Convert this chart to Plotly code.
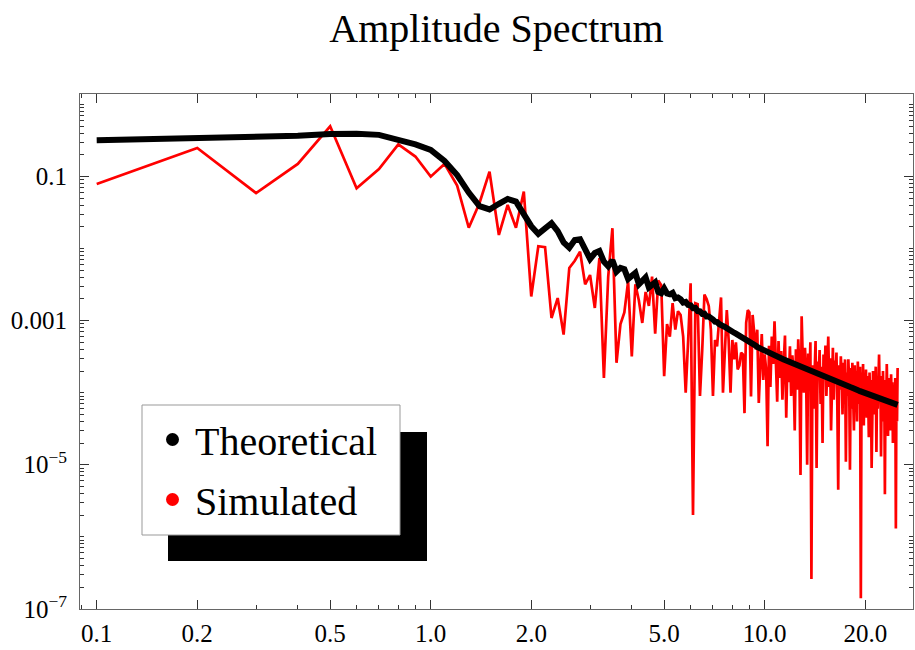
import plotly.graph_objects as go

# frequency grid (0.1 ... 25.0)
freq = [round(k * 0.1, 1) for k in range(1, 251)]

theoretical = [
    0.32, 0.34, 0.355, 0.37, 0.39, 0.395, 0.38, 0.33, 0.28, 0.235,
    0.165, 0.105, 0.06, 0.039, 0.035, 0.042, 0.049, 0.045, 0.031, 0.0205,
    0.016, 0.019, 0.0225, 0.0175, 0.0122, 0.0103, 0.0132, 0.0135, 0.0102, 0.0072,
    0.0087, 0.0093, 0.0066, 0.0057, 0.0069, 0.0048, 0.0054, 0.0052, 0.0038, 0.0042,
    0.0046, 0.0032, 0.0036, 0.0040, 0.0029, 0.0031, 0.0034, 0.0025, 0.0024, 0.0028,
    2.38e-3, 2.32e-3, 2.43e-3, 2.05e-3, 2.10e-3, 1.98e-3, 1.78e-3, 1.82e-3, 1.65e-3, 1.63e-3,
    1.49e-3, 1.50e-3, 1.36e-3, 1.35e-3, 1.24e-3, 1.25e-3, 1.14e-3, 1.14e-3, 1.05e-3, 1.04e-3,
    9.7e-4, 9.6e-4, 9.0e-4, 8.9e-4, 8.4e-4, 8.2e-4, 7.8e-4, 7.6e-4, 7.3e-4, 7.1e-4,
    6.8e-4, 6.6e-4, 6.4e-4, 6.1e-4, 5.9e-4, 5.8e-4, 5.5e-4, 5.4e-4, 5.2e-4, 5.0e-4,
    4.9e-4, 4.7e-4, 4.6e-4, 4.5e-4, 4.3e-4, 4.2e-4, 4.1e-4, 4.0e-4, 3.8e-4, 3.7e-4,
    3.66e-4, 3.60e-4, 3.53e-4, 3.47e-4, 3.40e-4, 3.34e-4, 3.28e-4, 3.22e-4, 3.16e-4, 3.10e-4,
    3.05e-4, 3.00e-4, 2.95e-4, 2.90e-4, 2.85e-4, 2.80e-4, 2.76e-4, 2.71e-4, 2.67e-4, 2.62e-4,
    2.58e-4, 2.54e-4, 2.50e-4, 2.47e-4, 2.43e-4, 2.39e-4, 2.36e-4, 2.32e-4, 2.29e-4, 2.25e-4,
    2.22e-4, 2.19e-4, 2.16e-4, 2.12e-4, 2.09e-4, 2.06e-4, 2.03e-4, 2.01e-4, 1.98e-4, 1.95e-4,
    1.92e-4, 1.90e-4, 1.87e-4, 1.85e-4, 1.82e-4, 1.80e-4, 1.78e-4, 1.75e-4, 1.73e-4, 1.71e-4,
    1.69e-4, 1.66e-4, 1.64e-4, 1.62e-4, 1.60e-4, 1.58e-4, 1.56e-4, 1.55e-4, 1.53e-4, 1.51e-4,
    1.49e-4, 1.47e-4, 1.46e-4, 1.44e-4, 1.42e-4, 1.40e-4, 1.39e-4, 1.37e-4, 1.36e-4, 1.34e-4,
    1.33e-4, 1.31e-4, 1.30e-4, 1.28e-4, 1.27e-4, 1.26e-4, 1.24e-4, 1.23e-4, 1.21e-4, 1.20e-4,
    1.19e-4, 1.18e-4, 1.16e-4, 1.15e-4, 1.14e-4, 1.13e-4, 1.12e-4, 1.10e-4, 1.09e-4, 1.08e-4,
    1.07e-4, 1.06e-4, 1.05e-4, 1.04e-4, 1.03e-4, 1.02e-4, 1.01e-4, 1.00e-4, 9.9e-5, 9.8e-5,
    9.70e-5, 9.65e-5, 9.56e-5, 9.48e-5, 9.40e-5, 9.32e-5, 9.25e-5, 9.17e-5, 9.10e-5, 9.03e-5,
    8.96e-5, 8.89e-5, 8.82e-5, 8.76e-5, 8.69e-5, 8.63e-5, 8.56e-5, 8.50e-5, 8.43e-5, 8.37e-5,
    8.31e-5, 8.25e-5, 8.19e-5, 8.13e-5, 8.07e-5, 8.01e-5, 7.95e-5, 7.89e-5, 7.84e-5, 7.78e-5,
    7.72e-5, 7.67e-5, 7.61e-5, 7.56e-5, 7.50e-5, 7.45e-5, 7.40e-5, 7.35e-5, 7.30e-5, 7.25e-5,
    7.20e-5, 7.15e-5, 7.10e-5, 7.06e-5, 7.01e-5, 6.96e-5, 6.92e-5, 6.87e-5, 6.83e-5, 6.78e-5,
]

simulated = [
    0.079, 0.25, 0.059, 0.15, 0.50, 0.069, 0.127, 0.28, 0.19, 0.10,
    0.15, 0.075, 0.0195, 0.043, 0.117, 0.0155, 0.0405, 0.0195, 0.062, 0.00217,
    0.0108, 0.0105, 0.00109, 0.00206, 0.00064, 0.0054, 0.0068, 0.0091, 0.0032, 0.0043,
    0.0015, 0.0074, 0.00016, 0.0041, 0.0192, 0.00026, 0.0009, 0.0013, 0.0035, 0.00032,
    0.0032, 0.0019, 0.00093, 0.0025, 0.0016, 0.0041, 0.00066, 0.0036, 0.0031, 0.00017,
    9.0e-4, 6.0e-4, 1.75e-3, 7.5e-4, 1.35e-3, 1.2e-3, 6.0e-4, 1.0e-4, 5.4e-4, 3.3e-3,
    2.0e-6, 1.75e-3, 1.7e-3, 9.0e-5, 3.9e-4, 2.3e-3, 2.0e-3, 1.6e-3, 7.5e-4, 9.0e-5,
    5.4e-4, 4.4e-4, 9.8e-4, 2.1e-3, 1.0e-4, 3.2e-4, 1.4e-3, 5.4e-4, 1.0e-4, 5.4e-4,
    2.9e-4, 5.0e-4, 2.1e-4, 2.4e-4, 3.6e-4, 3.4e-4, 5.2e-5, 9.3e-4, 1.4e-3, 1.3e-3,
    8.9e-5, 1.2e-3, 6.0e-4, 4.0e-4, 7.5e-4, 7.2e-5, 2.4e-4, 6.5e-4, 1.5e-4, 3.4e-4,
    2.1e-4, 1.8e-5, 4.5e-4, 1.2e-4, 6.0e-4, 2.5e-4, 9.8e-4, 3.2e-4, 7.5e-5, 5.2e-4,
    1.6e-4, 3.8e-4, 8.0e-5, 2.6e-4, 6.2e-4, 4.5e-5, 2.9e-4, 1.4e-4, 4.4e-4, 9.0e-5,
    3.3e-4, 1.9e-4, 3.0e-5, 4.0e-4, 1.1e-4, 5.5e-4, 2.2e-4, 7.2e-6, 1.15e-3, 3.0e-4,
    1.0e-4, 4.2e-4, 2.0e-4, 1.0e-5, 3.5e-4, 1.3e-4, 5.0e-4, 2.6e-7, 2.4e-4, 6.0e-5,
    3.1e-4, 5.2e-4, 9.0e-6, 2.7e-4, 1.5e-4, 3.9e-4, 7.0e-5, 2.3e-4, 2.0e-5, 3.4e-4,
    1.7e-4, 4.5e-4, 9.0e-5, 2.6e-4, 6.0e-4, 1.2e-4, 3.0e-4, 3.0e-5, 2.1e-4, 4.2e-4,
    8.0e-5, 2.8e-4, 1.5e-4, 3.6e-4, 6.5e-5, 4.5e-6, 2.4e-4, 1.1e-4, 3.2e-4, 1.8e-4,
    5.0e-5, 2.6e-4, 1.3e-4, 2.9e-4, 1.1e-5, 1.9e-4, 9.0e-5, 2.9e-4, 1.4e-4, 8.5e-6,
    2.2e-4, 6.0e-5, 2.6e-4, 1.2e-4, 3.0e-5, 2.4e-4, 1.0e-4, 2.0e-4, 4.0e-5, 2.7e-4,
    1.3e-4, 7.0e-5, 2.3e-4, 1.4e-7, 1.9e-4, 8.0e-5, 2.5e-4, 3.5e-5, 1.6e-4, 9.0e-5,
    2.1e-4, 4.5e-5, 1.7e-4, 1.0e-4, 2.4e-5, 1.9e-4, 6.0e-5, 1.5e-4, 9.0e-6, 1.2e-4,
    2.0e-4, 5.0e-5, 1.6e-4, 8.0e-5, 2.3e-4, 1.5e-5, 1.3e-4, 6.0e-5, 1.8e-4, 3.4e-4,
    9.0e-5, 1.7e-4, 1.3e-5, 1.2e-4, 4.0e-5, 2.0e-4, 7.0e-5, 1.5e-4, 3.9e-6, 1.1e-4,
    5.0e-5, 2.5e-4, 9.0e-5, 2.5e-5, 1.6e-4, 6.0e-5, 1.3e-4, 3.0e-5, 1.8e-4, 8.0e-5,
    1.4e-4, 2.0e-5, 1.2e-4, 5.0e-5, 9.0e-5, 1.6e-4, 1.3e-6, 1.2e-4, 4.0e-5, 2.2e-4,
]

x_tickvals = [0.1, 0.2, 0.5, 1.0, 2.0, 5.0, 10.0, 20.0]
x_ticktext = ["0.1", "0.2", "0.5", "1.0", "2.0", "5.0", "10.0", "20.0"]
y_tickvals = [0.1, 0.001, 1e-5, 1e-7]
y_ticktext = ["0.1", "0.001", "10<sup>\u22125</sup>", "10<sup>\u22127</sup>"]

assert len(theoretical) == len(freq) == len(simulated)

FONT = "Liberation Serif, Times New Roman, serif"

fig = go.Figure()
fig.add_trace(go.Scatter(x=freq, y=simulated, mode="lines",
                         line=dict(color="#ff0000", width=2.7), showlegend=False))
fig.add_trace(go.Scatter(x=freq, y=theoretical, mode="lines",
                         line=dict(color="black", width=6), showlegend=False))
# legend entries (dots)
fig.add_trace(go.Scatter(x=[None], y=[None], mode="markers", name="Theoretical",
                         legendgroup="a", marker=dict(color="black", size=13)))
fig.add_trace(go.Scatter(x=[None], y=[None], mode="markers", name="Simulated",
                         legendgroup="b", marker=dict(color="#ff0000", size=13)))

W, H = 915, 650
L, R, T, B = 80, 2, 94, 41
PW, PH = W - L - R, H - T - B

def px_x(p):
    return (p - L) / PW

def px_y(p):
    return (H - B - p) / PH

# legend shadow and box
fig.add_shape(type="rect", xref="paper", yref="paper",
              x0=px_x(168), x1=px_x(427), y0=px_y(561), y1=px_y(432),
              fillcolor="black", line=dict(width=0), layer="above")
fig.add_shape(type="rect", xref="paper", yref="paper",
              x0=px_x(142), x1=px_x(400), y0=px_y(535), y1=px_y(405),
              fillcolor="white", line=dict(width=1, color="#999"), layer="above")

axis_common = dict(
    type="log", showgrid=False, zeroline=False, automargin=False,
    showline=True, linecolor="#666", linewidth=1, mirror="allticks",
    ticks="inside", ticklen=9, tickcolor="#333", tickwidth=1,
    tickfont=dict(family=FONT, size=25, color="black"),
    minor=dict(ticks="inside", ticklen=4, tickcolor="#333", dtick="D1", showgrid=False),
)

fig.update_xaxes(range=[-1.05, 1.444], tickmode="array", tickvals=x_tickvals,
                 ticktext=x_ticktext, ticklabelstandoff=2, **axis_common)
fig.update_yaxes(range=[-7.003, 0.147], tickmode="array", tickvals=y_tickvals,
                 ticktext=y_ticktext, ticklabelstandoff=7, **axis_common)

fig.update_layout(
    width=W, height=H,
    margin=dict(l=L, r=R, t=T, b=B),
    paper_bgcolor="white", plot_bgcolor="white",
    font=dict(family=FONT, color="black"),
    title=dict(text="Amplitude Spectrum", x=0.5, xref="paper", xanchor="center",
               y=1 - 28 / H, yref="container", yanchor="middle",
               font=dict(family=FONT, size=40, color="black")),
    legend=dict(x=px_x(150), y=px_y(407), xanchor="left", yanchor="top",
                bgcolor="rgba(0,0,0,0)", borderwidth=0,
                font=dict(family=FONT, size=40, color="black"),
                itemwidth=35, tracegroupgap=5),
)

fig.write_html(
    "out.html",
    config={"displayModeBar": False},
    post_script="document.body.style.margin='0px';document.body.style.overflow='hidden';",
)
